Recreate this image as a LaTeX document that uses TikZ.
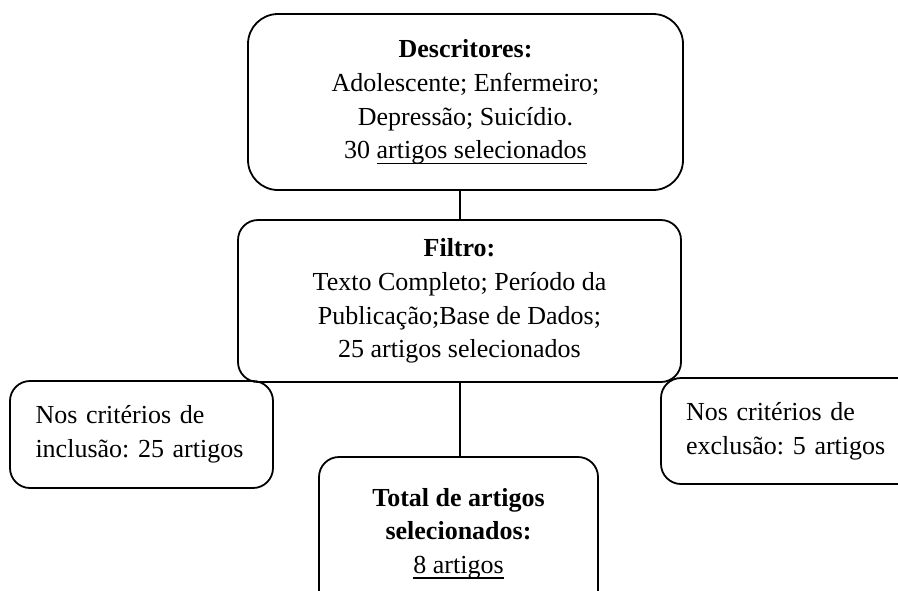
\documentclass[tikz,border=0pt]{standalone}
\usepackage{fontspec}
\setmainfont{Liberation Serif}
\usetikzlibrary{positioning, calc}
\frenchspacing
% underline that sits close to the baseline
\newcommand{\ulin}[1]{\setbox0\hbox{#1}\rlap{\rule[-2.6pt]{\wd0}{0.65pt}}\box0}

\begin{document}
\begin{tikzpicture}[
    x=0.5pt, y=-0.5pt,
    txt/.style={font=\fontsize{13}{16.8}\selectfont},
    box/.style={txt, draw=black, line width=0.9pt, rounded corners=10pt,
                inner sep=0pt, align=center},
    link/.style={line width=1pt, black}
]
\clip (0,0) rectangle (898,590);
% search steps
\node[box, rounded corners=15pt, minimum width=217.5pt, minimum height=88pt]
  (desc) at (465.5,102) {\textbf{Descritores:}\\ Adolescente; Enfermeiro;\\
  Depressão; Suicídio.\\ 30 \ulin{artigos selecionados}};
\node[box, minimum width=221.5pt, minimum height=81pt]
  (filt) at (459.5,301) {\textbf{Filtro:}\\ Texto Completo; Período da\\
  Publicação;Base de Dados;\\ 25 artigos selecionados};
% criteria
\node[box, align=left, inner xsep=12.75pt, text width=106pt,
      minimum height=53.5pt]
  (incl) at (141.5,434.5) {Nos critérios de\\ inclusão: 25 artigos};
\node[box, align=left, inner xsep=12.5pt, text width=120pt,
      minimum height=53pt]
  (excl) at (806,431) {Nos critérios de\\ exclusão: 5 artigos};
% result
\node[box, minimum width=139.5pt, minimum height=76.5pt]
  (total) at (458.5,533.5) {\textbf{Total de artigos}\\
  \textbf{selecionados:}\\ \ulin{8 artigos}};
\draw[link] (filt.north) -- (filt.north |- desc.south);
\draw[link] (filt.south) -- (filt.south |- total.north);
\end{tikzpicture}
\end{document}
